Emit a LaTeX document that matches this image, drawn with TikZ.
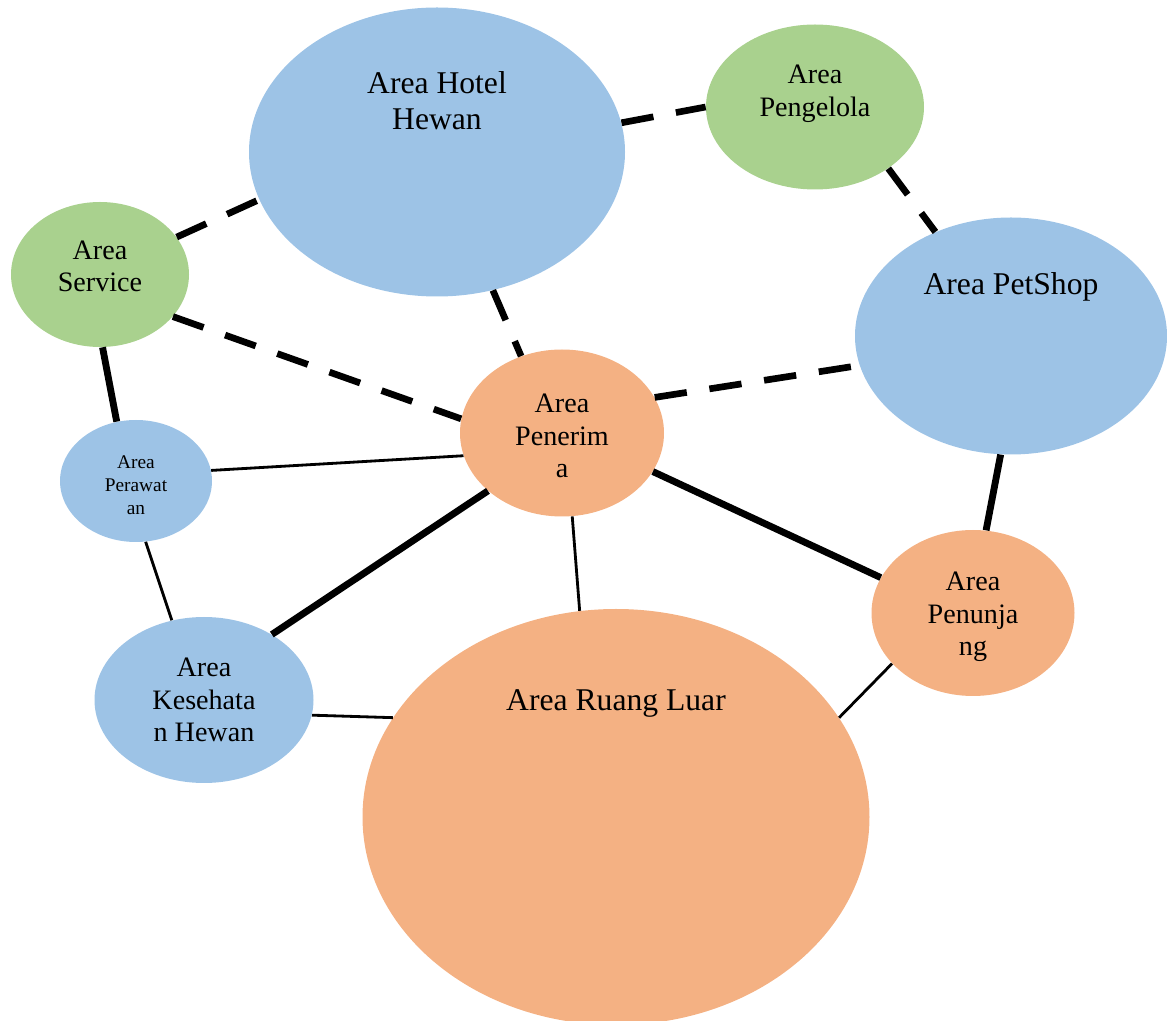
\documentclass[tikz,border=0pt]{standalone}
\usepackage{fontspec}
\setmainfont{Liberation Serif}
\usetikzlibrary{shapes}
\definecolor{areablue}{HTML}{9DC3E6}
\definecolor{areagreen}{HTML}{A9D18E}
\definecolor{areaorange}{HTML}{F4B183}

\begin{document}
\begin{tikzpicture}
\tikzset{area/.style = {shape=ellipse,inner sep=0pt}}
\tikzset{bigtext/.style = {font=\fontsize{18}{20.5}\selectfont,align=center}}
\tikzset{midtext/.style = {font=\fontsize{16}{18.5}\selectfont,align=center}}
\tikzset{smalltext/.style = {font=\fontsize{11}{13}\selectfont,align=center}}
\tikzset{dashlink/.style = {line width=3.8pt,dash pattern=on 18.5pt off 13pt}}
\tikzset{boldlink/.style = {line width=3.9pt}}
\tikzset{thinlink/.style = {line width=1.6pt}}
\useasboundingbox (0,0) rectangle (23.34,-20.42);

\node[area,fill=areablue,minimum width=7.52cm,minimum height=5.78cm] (hotel) at (8.74,-3.04) {};
\node[bigtext] (hoteltext) at (8.74,-2.02) {Area Hotel\\Hewan};
\node[area,fill=areagreen,minimum width=4.36cm,minimum height=3.3cm] (pengelola) at (16.30,-2.14) {};
\node[midtext] (pengelolatext) at (16.30,-1.88) {Area\\Pengelola};
\node[area,fill=areagreen,minimum width=3.56cm,minimum height=2.9cm] (service) at (2.0,-5.49) {};
\node[midtext] (servicetext) at (2.0,-5.33) {Area\\Service};
\node[area,fill=areablue,minimum width=6.24cm,minimum height=4.74cm] (petshop) at (20.22,-6.72) {};
\node[bigtext] (petshoptext) at (20.22,-5.74) {Area PetShop};
\node[area,fill=areaorange,minimum width=4.08cm,minimum height=3.34cm] (penerima) at (11.24,-8.66) {};
\node[midtext] (penerimatext) at (11.24,-8.72) {Area\\Penerim\\a};
\node[area,fill=areablue,minimum width=3.04cm,minimum height=2.44cm] (perawatan) at (2.72,-9.62) {};
\node[smalltext] (perawatantext) at (2.72,-9.70) {Area\\Perawat\\an};
\node[area,fill=areablue,minimum width=4.38cm,minimum height=3.32cm] (kesehatan) at (4.08,-14.0) {};
\node[midtext] (kesehatantext) at (4.08,-14.0) {Area\\Kesehata\\n Hewan};
\node[area,fill=areaorange,minimum width=10.14cm,minimum height=8.32cm] (ruangluar) at (12.32,-16.34) {};
\node[bigtext] (ruangluartext) at (12.32,-14.06) {Area Ruang Luar};
\node[area,fill=areaorange,minimum width=4.06cm,minimum height=3.32cm] (penunjang) at (19.46,-12.26) {};
\node[midtext] (penunjangtext) at (19.46,-12.34) {Area\\Penunja\\ng};

\draw[dashlink] (hotel.9) to (pengelola.180);
\draw[dashlink] (pengelola.-40) to (petshop.126);
\draw[dashlink] (service.26) to (hotel.195);
\draw[dashlink] (hotel.-68) to (penerima.118);
\draw[dashlink] (service.-30) to (penerima.172);
\draw[dashlink] (penerima.21) to (petshop.191);
\draw[boldlink] (service.-88) to (perawatan.108);
\draw[boldlink] (penerima.218) to (kesehatan.44);
\draw[boldlink] (penerima.-23) to (penunjang.159);
\draw[boldlink] (petshop.265) to (penunjang.81);
\draw[thinlink] (perawatan.8) to (penerima.193);
\draw[thinlink] (perawatan.-81) to (kesehatan.112);
\draw[thinlink] (penerima.-83) to (ruangluar.100);
\draw[thinlink] (kesehatan.-8) to (ruangluar.156);
\draw[thinlink] (ruangluar.24) to (penunjang.212);
\end{tikzpicture}
\end{document}
